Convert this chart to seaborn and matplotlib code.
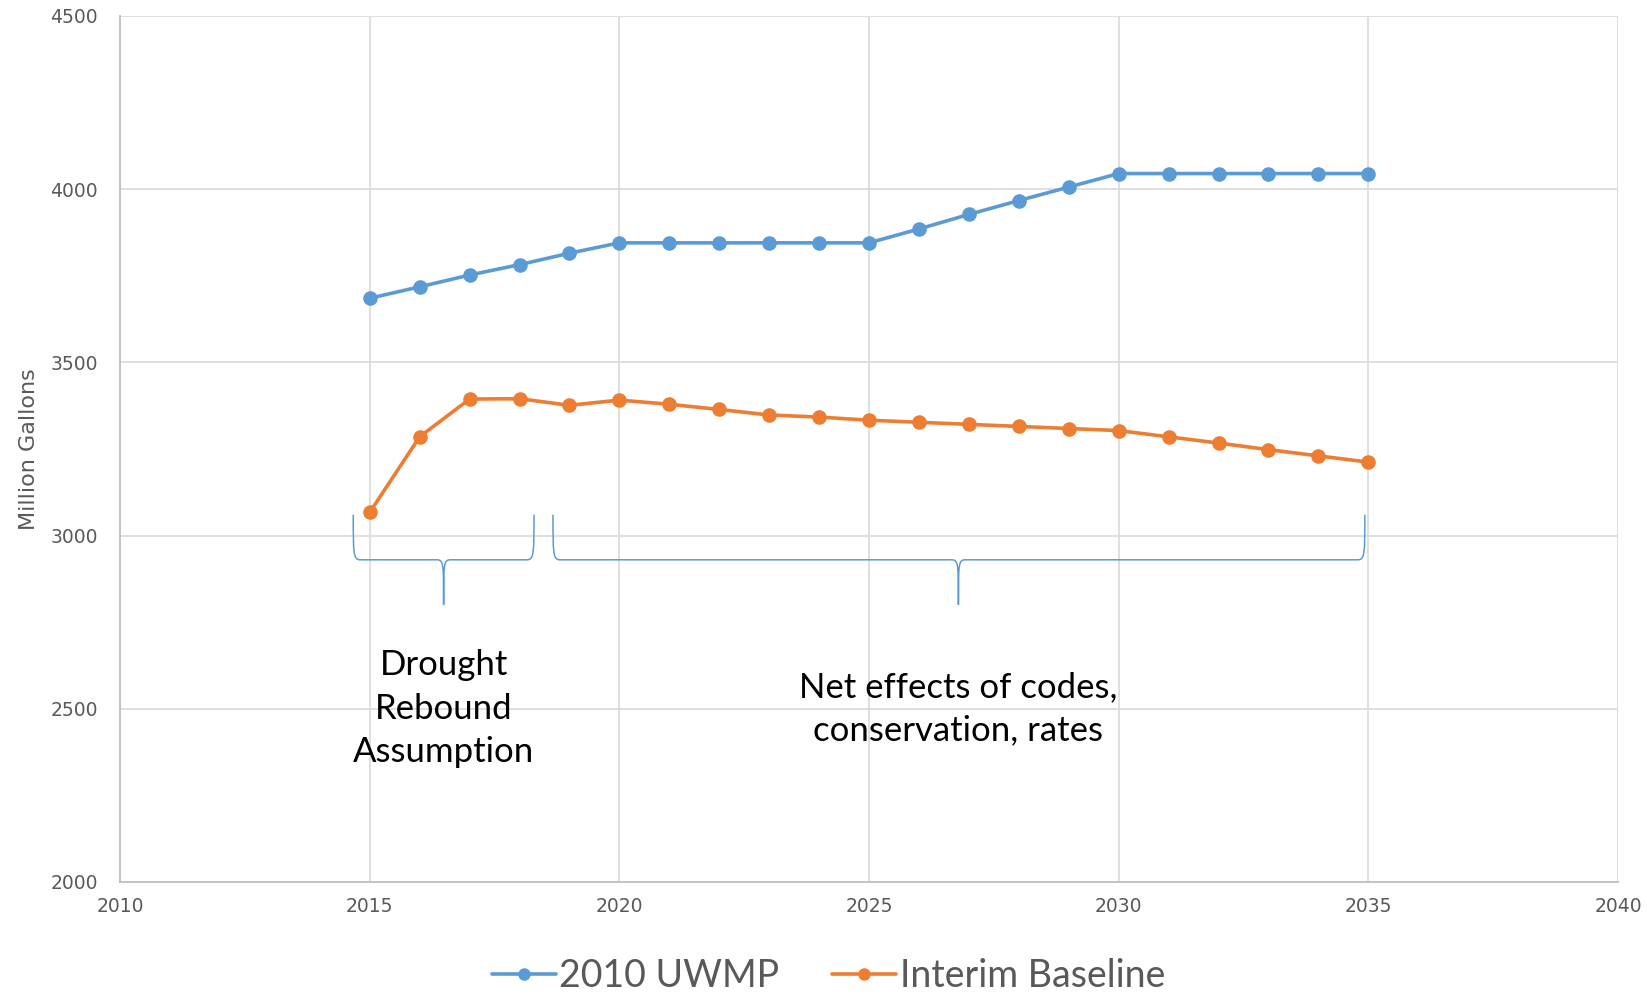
"""Projected demand: 2010 UWMP vs interim baseline, with brace annotations."""
import matplotlib
matplotlib.use("Agg")
import matplotlib.pyplot as plt
import pandas as pd
import seaborn as sns
from matplotlib.path import Path
from matplotlib.patches import PathPatch

years = list(range(2015, 2036))
uwmp_2010 = [3685, 3718, 3752, 3782, 3815, 3845, 3845, 3845, 3845, 3845, 3845,
             3885, 3927, 3967, 4006, 4045, 4045, 4045, 4045, 4045, 4045]
interim_baseline = [3067, 3285, 3394, 3395, 3376, 3391, 3379, 3364, 3348, 3342, 3333,
                    3327, 3321, 3315, 3309, 3303, 3285, 3267, 3248, 3230, 3212]

series_names = ["2010 UWMP", "Interim Baseline"]
series_colors = ["#5B9BD5", "#ED7D31"]

# braces: (left, right, tip x) in years, spanning the value band below
brace_spans = [(2014.67, 2018.29, 2016.48), (2018.67, 2034.93, 2026.79)]
brace_values = (3060, 2930, 2800)  # top of ends, bar, tip
brace_labels = ["Drought\nRebound\nAssumption", "Net effects of codes,\nconservation, rates"]
label_value = 2500

df = pd.DataFrame({"Year": years * 2,
                   "Value": uwmp_2010 + interim_baseline,
                   "Series": [series_names[0]] * len(years) + [series_names[1]] * len(years)})


def brace_path(x0, x1, xt, ytop, ymid, ybot, dx=0.14):
    verts = [(x0, ytop), (x0, ymid + 20), (x0, ymid), (x0 + dx, ymid),
             (xt - dx, ymid),
             (xt, ymid), (xt, ymid - 10), (xt, ybot),
             (xt, ymid - 10), (xt, ymid), (xt + dx, ymid),
             (x1 - dx, ymid),
             (x1, ymid), (x1, ymid + 20), (x1, ytop)]
    codes = [Path.MOVETO, Path.CURVE4, Path.CURVE4, Path.CURVE4,
             Path.LINETO,
             Path.CURVE4, Path.CURVE4, Path.CURVE4,
             Path.CURVE4, Path.CURVE4, Path.CURVE4,
             Path.LINETO,
             Path.CURVE4, Path.CURVE4, Path.CURVE4]
    return Path(verts, codes)


sns.set_theme(style="whitegrid")
plt.rcParams["font.family"] = ["DejaVu Sans"]

fig = plt.figure(figsize=(16.47, 9.96), dpi=100)
ax = fig.add_axes([0.0729, 0.1145, 0.9095, 0.8695])

sns.lineplot(data=df, x="Year", y="Value", hue="Series", palette=series_colors,
             marker="o", markersize=10.5, markeredgewidth=0, linewidth=2.6, ax=ax)

ax.set_xlim(2010, 2040)
ax.set_ylim(2000, 4500)
ax.set_xticks(range(2010, 2041, 5))
ax.set_yticks(range(2000, 4501, 500))
ax.grid(True, color="#D9D9D9", linewidth=1.2)
ax.set_axisbelow(True)
for side in ["top", "right"]:
    ax.spines[side].set_visible(False)
for side in ["left", "bottom"]:
    ax.spines[side].set_color("#BFBFBF")
    ax.spines[side].set_linewidth(1.3)
ax.tick_params(axis="both", labelsize=13.5, colors="#595959", length=0)
ax.tick_params(axis="y", pad=16)
ax.tick_params(axis="x", pad=11)
ax.set_xlabel("")
ax.set_ylabel("Million Gallons", fontsize=16, color="#595959",
              family=["Liberation Sans Narrow", "DejaVu Sans"], labelpad=8)

for (x0, x1, xt), text in zip(brace_spans, brace_labels):
    ax.add_patch(PathPatch(brace_path(x0, x1, xt, *brace_values), fill=False,
                           edgecolor=series_colors[0], linewidth=1.1))
    ax.text(xt, label_value, text, ha="center", va="center", fontsize=25,
            family=["Lato", "DejaVu Sans"], color="black", linespacing=1.45)

handles, labels = ax.get_legend_handles_labels()
for h in handles:
    h.set_markersize(9)
ax.legend(handles, labels, loc="center", bbox_to_anchor=(0.503, 0.02),
          bbox_transform=fig.transFigure, ncol=2, frameon=False,
          prop={"family": ["Lato", "DejaVu Sans"], "size": 27},
          labelcolor="#595959", handlelength=1.7, handletextpad=0.1,
          columnspacing=1.4)

fig.savefig("out.png", dpi=100)
